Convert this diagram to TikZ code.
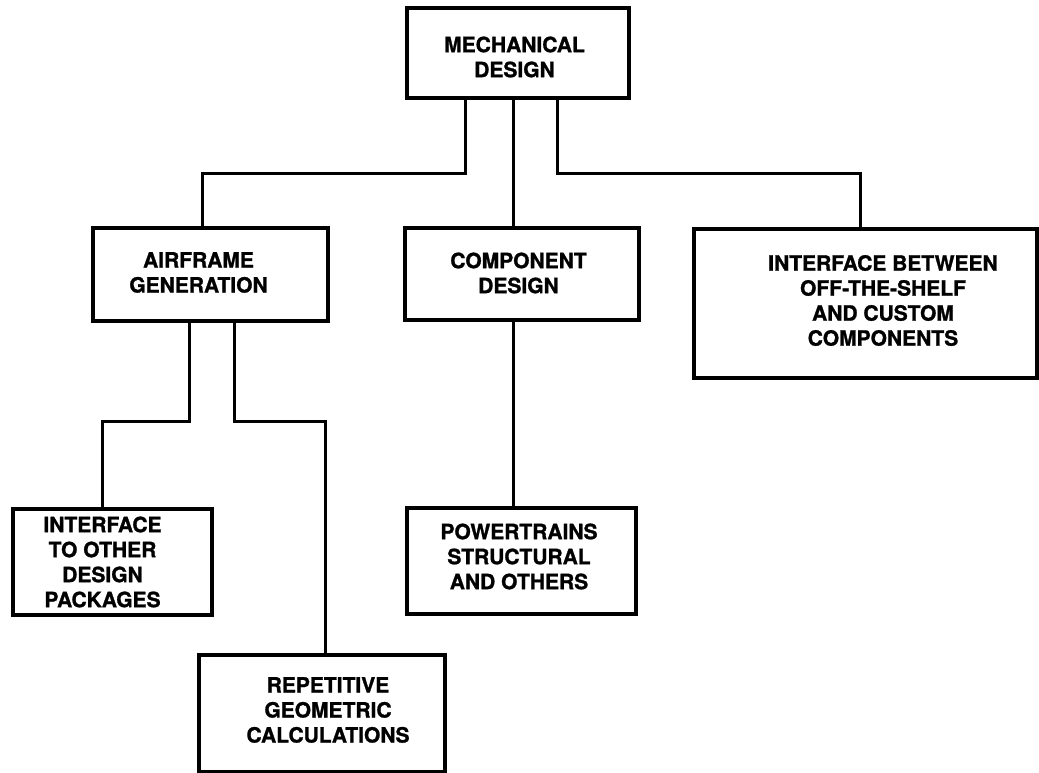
\documentclass[tikz,border=0pt]{standalone}
\usepackage{fontspec}
\setmainfont[BoldFeatures={FakeBold=1.2}]{TeX Gyre Heros}
\begin{document}
\begin{tikzpicture}[x=1pt,y=-1pt,
  box/.style={draw, line width=3.2pt, rectangle, inner sep=0pt},
  txt/.style={font=\bfseries\fontsize{21}{25}\selectfont, align=center, inner sep=0pt},
  conn/.style={line width=3pt}]
\useasboundingbox (0,0) rectangle (1039,773);
\node[box, minimum width=222pt, minimum height=90pt,
  label={[txt,xshift=-3.5pt,yshift=-4pt]center:MECHANICAL\\DESIGN}] (md) at (518,53) {};
\node[box, minimum width=235pt, minimum height=93pt,
  label={[txt,xshift=-12pt,yshift=2pt]center:AIRFRAME\\GENERATION}] (af) at (210.5,274.5) {};
\node[box, minimum width=234pt, minimum height=92pt,
  label={[txt,xshift=-3.5pt,yshift=1pt]center:COMPONENT\\DESIGN}] (cd) at (522,274) {};
\node[box, minimum width=343pt, minimum height=149pt,
  label={[txt,xshift=17.5pt,yshift=3pt]center:INTERFACE BETWEEN\\OFF-THE-SHELF\\AND CUSTOM\\COMPONENTS}] (ib) at (865.5,303.5) {};
\node[box, minimum width=199pt, minimum height=106pt,
  label={[txt,xshift=-10pt,yshift=0pt]center:INTERFACE\\TO OTHER\\DESIGN\\PACKAGES}] (io) at (112.5,562) {};
\node[box, minimum width=229pt, minimum height=106pt,
  label={[txt,xshift=-2.5pt,yshift=4.5pt]center:POWERTRAINS\\STRUCTURAL\\AND OTHERS}] (pt) at (521.5,561) {};
\node[box, minimum width=246pt, minimum height=117pt,
  label={[txt,xshift=6pt,yshift=3.5pt]center:REPETITIVE\\GEOMETRIC\\CALCULATIONS}] (rg) at (322,713.5) {};
\draw[conn] ([xshift=-53pt]md.south) -- ++(0,74) -| ([xshift=-8.5pt]af.north);
\draw[conn] ([xshift=-5pt]md.south) -- ([xshift=-9pt]cd.north);
\draw[conn] ([xshift=39pt]md.south) -- ++(0,74) -| ([xshift=-5.5pt]ib.north);
\draw[conn] ([xshift=-21.5pt]af.south) -- ++(0,99) -| ([xshift=-10.5pt]io.north);
\draw[conn] ([xshift=23.5pt]af.south) -- ++(0,99) -| ([xshift=3pt]rg.north);
\draw[conn] ([xshift=-9pt]cd.south) -- ([xshift=-8.5pt]pt.north);
\end{tikzpicture}
\end{document}
